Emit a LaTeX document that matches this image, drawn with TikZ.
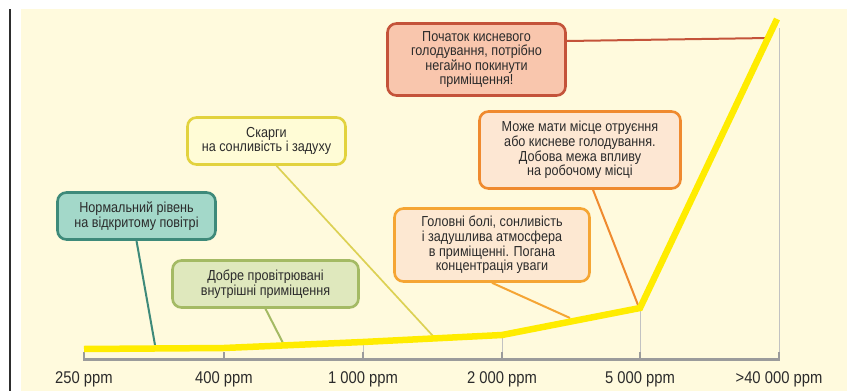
\documentclass[tikz,border=0pt]{standalone}
\usepackage{fontspec}
\setmainfont{Liberation Sans}[FakeStretch=0.87]
\definecolor{bg}{HTML}{FFFADD}
\definecolor{blk}{HTML}{2E2E2E}
\definecolor{txt}{HTML}{2B2B2B}
\definecolor{tealF}{HTML}{A3D8C9}
\definecolor{tealD}{HTML}{3E8A7A}
\definecolor{greenF}{HTML}{DFE8BD}
\definecolor{greenD}{HTML}{A4BA64}
\definecolor{yelF}{HTML}{FFFCD6}
\definecolor{yelD}{HTML}{E2D23E}
\definecolor{yelC}{HTML}{DCD154}
\definecolor{golF}{HTML}{FDE8D2}
\definecolor{golD}{HTML}{F5A534}
\definecolor{mozF}{HTML}{FDE7D3}
\definecolor{mozD}{HTML}{EF8A2F}
\definecolor{redF}{HTML}{F9C6AD}
\definecolor{redD}{HTML}{C4533A}
\definecolor{curveY}{HTML}{FFEC00}
\definecolor{axisG}{HTML}{9B9B9B}
\definecolor{thinG}{HTML}{C2C2C2}
\begin{document}
\begin{tikzpicture}[x=1pt,y=-1pt,
  box/.style={draw, line width=2.6pt, rounded corners=9pt, align=center, inner sep=0pt, text=txt, font=\fontsize{14.5}{14.6}\selectfont},
  conn/.style={line width=2pt},
  axlab/.style={anchor=base, text=txt, font=\fontsize{17}{20}\selectfont},
  thin/.style={thinG, line width=1pt},
  tick/.style={axisG, line width=2pt}]
\useasboundingbox (0,0) rectangle (847,391);
\fill[bg] (21,9) rectangle (847,391);
\fill[blk] (8.8,9) rectangle (11.2,391);
% curve points
\coordinate (p250) at (84,349);
\coordinate (p400) at (224,348);
\coordinate (p1000) at (363,342);
\coordinate (p2000) at (502,335);
\coordinate (p5000) at (640,308);
\coordinate (ptop) at (777,19);
% axis ends
\coordinate (a250) at (84,359.5);
\coordinate (a400) at (224,359.5);
\coordinate (a1000) at (363,359.5);
\coordinate (a2000) at (502,359.5);
\coordinate (a5000) at (640,359.5);
\coordinate (a40000) at (779,359.5);
\coordinate (t40000) at (779,28);
% thin verticals
\draw[thin] (p1000) -- (a1000);
\draw[thin] (p2000) -- (a2000);
\draw[thin] (p5000) -- (a5000);
\draw[thin] (t40000) -- (a40000);
% axis and ticks
\draw[axisG, line width=2.2pt] (a250) -- (a40000);
\foreach \n in {250,400,1000,2000,5000,40000}
  \draw[tick] ([yshift=7.5pt]a\n) -- ([yshift=-1pt]a\n);
% boxes
\node[box, fill=tealF, draw=tealD, minimum width=158pt, minimum height=47pt] (teal) at (136.5,216) {Нормальний рівень\\на відкритому повітрі};
\node[box, fill=greenF, draw=greenD, minimum width=186pt, minimum height=47pt] (green) at (265.5,284) {Добре провітрювані\\внутрішні приміщення};
\node[box, fill=yelF, draw=yelD, minimum width=158pt, minimum height=47pt] (yel) at (266.5,141) {Скарги\\на сонливість і задуху};
\node[box, fill=golF, draw=golD, minimum width=195pt, minimum height=73pt] (gol) at (492,245) {Головні болі, сонливість\\і задушлива атмосфера\\в приміщенні. Погана\\концентрація уваги};
\node[box, fill=mozF, draw=mozD, minimum width=201pt, minimum height=77pt] (moz) at (580,150) {Може мати місце отруєння\\або кисневе голодування.\\Добова межа впливу\\на робочому місці};
\node[box, fill=redF, draw=redD, minimum width=178pt, minimum height=72pt] (red) at (476.5,59.5) {Початок кисневого\\голодування, потрібно\\негайно покинути\\приміщення!};
% connector ends on the curve
\coordinate (tealE) at (155,345);
\coordinate (greenE) at (283,343);
\coordinate (yelE) at (433,336);
\coordinate (golE) at (570,318);
\coordinate (mozE) at (638,305);
\coordinate (redE) at (769,38);
% connectors (behind boxes)
\begin{scope}[on background layer/.style={}]
\end{scope}
\draw[conn, tealD] (teal.south) -- (tealE);
\draw[conn, greenD] (green.south) -- (greenE);
\draw[conn, yelC, line width=1.7pt] ([xshift=10pt]yel.south) -- (yelE);
\draw[conn, golD] (gol.south) -- (golE);
\draw[conn, mozD] ([xshift=13pt]moz.south) -- (mozE);
\draw[conn, redD] ([yshift=18.5pt]red.east) -- (redE);
% curve
\draw[curveY, line width=6.5pt] (p250) -- (p400) -- (p1000) -- (p2000) -- (p5000) -- (ptop);
% axis labels
\node[axlab] (l250) at (84,383) {250 ppm};
\node[axlab] (l400) at (224,383) {400 ppm};
\node[axlab] (l1000) at (363,383) {1 000 ppm};
\node[axlab] (l2000) at (502,383) {2 000 ppm};
\node[axlab] (l5000) at (640,383) {5 000 ppm};
\node[axlab] (l40000) at (779,383) {>40 000 ppm};
\end{tikzpicture}
\end{document}
